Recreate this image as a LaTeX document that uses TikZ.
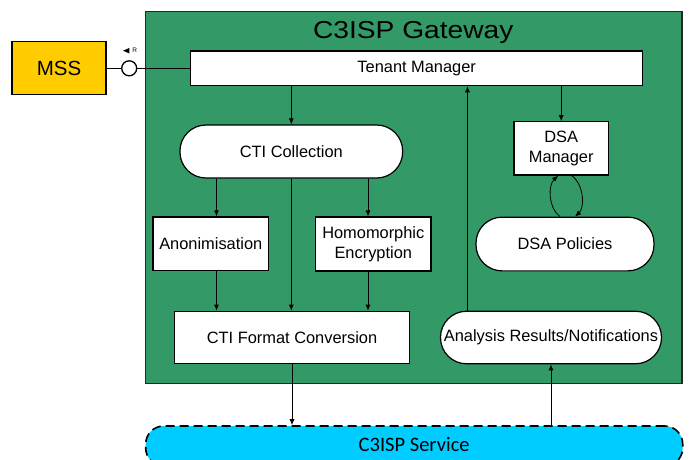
\documentclass[tikz,border=0pt]{standalone}
\usepackage{fontspec}
\usepackage{graphicx}
\setmainfont{Liberation Sans}
\newfontfamily\svcfont{Carlito}
\usetikzlibrary{arrows.meta}
\definecolor{gwgreen}{HTML}{339966}
\definecolor{mssyellow}{HTML}{FFCC00}
\definecolor{svccyan}{HTML}{00CCFF}
\begin{document}
\begin{tikzpicture}[x=1pt,y=-1pt,
  box/.style={draw=black, line width=1.2pt, fill=white, inner sep=0pt, align=center,
    font=\fontsize{16.4}{19.7}\selectfont},
  pill/.style={box, rounded corners=26pt},
  conn/.style={draw=black, line width=0.8pt},
  arr/.style={conn, -{Latex[length=6pt,width=5pt]}},
]
\useasboundingbox (0,0) rectangle (689,459);

% gateway
\node[draw=black!85, line width=1.3pt, fill=gwgreen, minimum width=536.7pt,
      minimum height=371.6pt, inner sep=0pt] (gw) at (413.7,197.5) {};
\node[anchor=base, inner sep=0pt, font=\fontsize{24.5}{28}\selectfont] (gwtitle) at (413.3,38.7) {\scalebox{1.15}[1]{C3ISP Gateway}};

% service
\node[draw=black, line width=1.6pt, dash pattern=on 9pt off 5pt, fill=svccyan,
      rounded corners=18pt, minimum width=537pt, minimum height=40pt, inner sep=0pt,
      text depth=4pt,
      font=\svcfont\fontsize{20.5}{24}\selectfont] (svc) at (414.2,446) {C3ISP Service};

% MSS
\node[draw=black, line width=1.3pt, fill=mssyellow, minimum width=94pt, minimum height=53pt,
      inner sep=0pt, font=\fontsize{20.5}{24}\selectfont] (mss) at (59,68.3) {MSS};
\node[circle, draw=black, line width=1.3pt, fill=white, minimum size=15pt, inner sep=0pt] (iface) at (129.2,68.3) {};
\fill[black] (123,50.7) -- (129.3,48) -- (129.3,53.4) -- cycle;
\node[inner sep=0pt, font=\fontsize{6.5}{7}\selectfont] (rlabel) at (134.6,49.8) {R};

% boxes
\node[box, minimum width=452pt, minimum height=34.7pt] (tm) at (416.7,68.3) {Tenant Manager};
\node[pill, minimum width=222.7pt, minimum height=53pt] (cc) at (291.3,151.5) {CTI Collection};
\node[box, minimum width=115.7pt, minimum height=53.7pt] (an) at (210.8,243.8) {Anonimisation};
\node[box, minimum width=115.3pt, minimum height=54pt] (he) at (373.3,244) {Homomorphic\\Encryption};
\node[box, minimum width=235pt, minimum height=52.5pt] (cfc) at (292,337.5) {CTI Format Conversion};
\node[pill, minimum width=221pt, minimum height=52.5pt] (ar) at (551,337.5) {Analysis Results/Notifications};
\node[box, minimum width=94.3pt, minimum height=53.3pt] (dsam) at (561.2,148.4) {DSA\\Manager};
\node[pill, minimum width=178pt, minimum height=53.7pt] (dsap) at (565,244) {DSA Policies};

% connectors
\draw[conn] (mss.east) -- (iface.west);
\draw[conn] (iface.east) -- (tm.west);

\draw[arr] (tm.south -| cc.north) -- (cc.north);
\coordinate (ax) at ([xshift=5.7pt]an.north);
\coordinate (hx) at ([xshift=-5.3pt]he.north);
\draw[arr] (ax |- cc.south) -- (ax);
\draw[arr] (hx |- cc.south) -- (hx);
\coordinate (axs) at ([xshift=5.7pt]an.south);
\coordinate (hxs) at ([xshift=-5.3pt]he.south);
\draw[arr] (axs) -- (axs |- cfc.north);
\draw[arr] (hxs) -- (hxs |- cfc.north);
\draw[arr] (cc.south) -- (cc.south |- cfc.north);

\draw[arr] (tm.south -| dsam.north) -- (dsam.north);
\coordinate (arx) at ([xshift=-83.5pt]ar.north);
\draw[arr] (arx) -- (arx |- tm.south);

\draw[arr] (cfc.south) -- (cfc.south |- svc.north);
\draw[arr] (svc.north -| ar.south) -- (ar.south);

\draw[arr] ([xshift=-5pt]dsap.north) .. controls (548,208) and (548,185) .. ([xshift=-3pt]dsam.south);
\draw[arr] ([xshift=10.5pt]dsam.south) .. controls (584.5,185) and (584.5,208) .. ([xshift=10pt]dsap.north);
\end{tikzpicture}
\end{document}
